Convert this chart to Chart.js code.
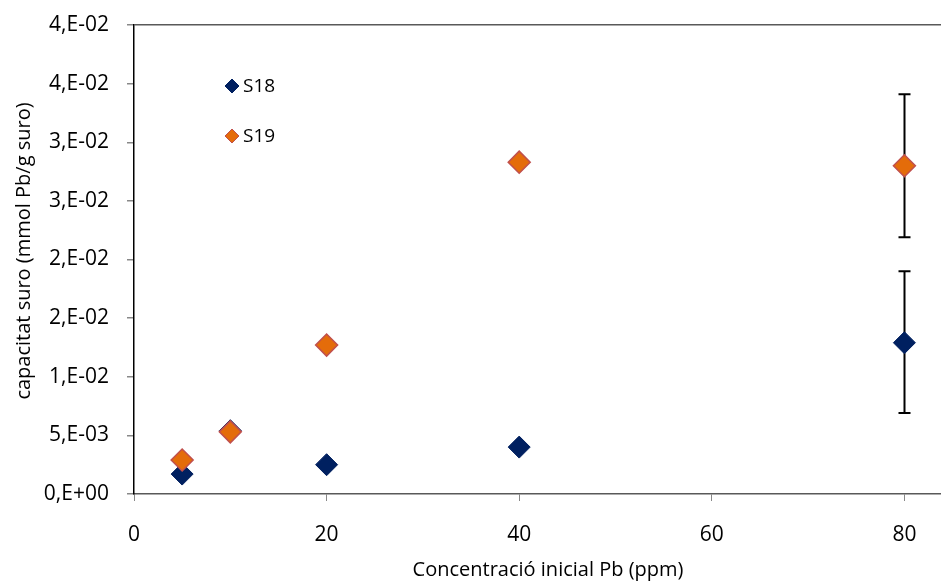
<!DOCTYPE html>
<html lang="ca">
<head>
  <meta charset="UTF-8" />
  <title>Capacitat suro</title>
  <script src="https://cdn.jsdelivr.net/npm/chart.js"></script>
  <style>
    html, body { margin: 0; padding: 0; background: #fff; overflow: hidden; }
    #wrap { width: 941px; height: 581px; position: relative; }
    canvas { display: block; }
  </style>
</head>
<body>
  <div id="wrap"><canvas id="chart"></canvas></div>

  <script>
    // data
    const concentrations = [5, 10, 20, 40, 80];
    const s18 = [0.0017, 0.0054, 0.0025, 0.0040, 0.0129];
    const s19 = [0.0029, 0.0053, 0.0127, 0.0283, 0.0280];
    const s18ErrLow = [null, null, null, null, 0.0069];
    const s18ErrHigh = [null, null, null, null, 0.0190];
    const s19ErrLow = [null, null, null, null, 0.0219];
    const s19ErrHigh = [null, null, null, null, 0.0341];

    const xTickValues = [0, 20, 40, 60, 80];
    const yTickValues = [0, 0.005, 0.01, 0.015, 0.02, 0.025, 0.03, 0.035, 0.04];
    const yTickLabels = ['0,E+00', '5,E-03', '1,E-02', '2,E-02', '2,E-02', '3,E-02', '3,E-02', '4,E-02', '4,E-02'];
    const xTitle = 'Concentració inicial Pb (ppm)';
    const yTitle = 'capacitat suro (mmol Pb/g suro)';

    const navy = '#002060';
    const orange = '#E46C0A';
    const orangeBorder = '#C0504D';
    const fontFamily = '"Open Sans", Lato, sans-serif';

    Chart.defaults.font.family = fontFamily;
    Chart.defaults.color = '#000';

    // error bars, drawn under the markers
    const errorBars = {
      id: 'errorBars',
      beforeDatasetsDraw(chart) {
        const { ctx, scales: { x, y } } = chart;
        ctx.save();
        ctx.strokeStyle = '#000';
        ctx.lineWidth = 2;
        chart.data.datasets.forEach(ds => {
          ds.data.forEach((p, i) => {
            if (ds.errLow[i] == null) return;
            const px = Math.round(x.getPixelForValue(p.x)) + 0.5;
            const top = y.getPixelForValue(ds.errHigh[i]);
            const bot = y.getPixelForValue(ds.errLow[i]);
            ctx.beginPath();
            ctx.moveTo(px, top); ctx.lineTo(px, bot);
            ctx.moveTo(px - 6, top); ctx.lineTo(px + 6, top);
            ctx.moveTo(px - 6, bot); ctx.lineTo(px + 6, bot);
            ctx.stroke();
          });
        });
        ctx.restore();
      }
    };

    // legend inside the plot area (Excel style) and the axis titles
    const insideLegend = {
      id: 'insideLegend',
      afterDraw(chart) {
        const { ctx, chartArea } = chart;
        ctx.save();
        ctx.font = '19px ' + fontFamily;
        ctx.textBaseline = 'middle';
        const items = [chart.data.datasets[1], chart.data.datasets[0]];
        items.forEach((ds, k) => {
          const cx = chartArea.left + 98;
          const cy = chartArea.top + 61 + k * 50;
          ctx.beginPath();
          ctx.moveTo(cx, cy - 7); ctx.lineTo(cx + 7, cy); ctx.lineTo(cx, cy + 7); ctx.lineTo(cx - 7, cy);
          ctx.closePath();
          ctx.fillStyle = ds.backgroundColor;
          ctx.fill();
          ctx.strokeStyle = ds.borderColor;
          ctx.lineWidth = 1;
          ctx.stroke();
          ctx.fillStyle = '#000';
          ctx.fillText(ds.label, cx + 11, cy + 1);
        });
        ctx.font = '20px ' + fontFamily;
        ctx.textAlign = 'center';
        ctx.fillText(xTitle, 548, chartArea.bottom + 76);
        ctx.translate(24, 251);
        ctx.rotate(-Math.PI / 2);
        ctx.fillText(yTitle, 0, 0);
        ctx.restore();
      }
    };

    new Chart(document.getElementById('chart'), {
      type: 'scatter',
      data: {
        datasets: [
          {
            label: 'S19',
            data: concentrations.map((c, i) => ({ x: c, y: s19[i] })),
            errLow: s19ErrLow,
            errHigh: s19ErrHigh,
            backgroundColor: orange,
            borderColor: orangeBorder,
            pointStyle: 'rectRot',
            pointRadius: 11,
            pointHoverRadius: 11,
            pointBorderWidth: 1.5,
            order: 0
          },
          {
            label: 'S18',
            data: concentrations.map((c, i) => ({ x: c, y: s18[i] })),
            errLow: s18ErrLow,
            errHigh: s18ErrHigh,
            backgroundColor: navy,
            borderColor: navy,
            pointStyle: 'rectRot',
            pointRadius: 11,
            pointHoverRadius: 11,
            pointBorderWidth: 1,
            order: 1
          }
        ]
      },
      options: {
        responsive: true,
        maintainAspectRatio: false,
        animation: false,
        layout: { autoPadding: false, padding: { top: 25, right: 0, left: 0, bottom: 0 } },
        plugins: {
          legend: { display: false },
          tooltip: { enabled: false }
        },
        scales: {
          x: {
            type: 'linear',
            min: 0,
            max: 83.8,
            afterBuildTicks: s => { s.ticks = xTickValues.map(v => ({ value: v })); },
            afterFit: s => { s.height = 87; s.paddingLeft = 0; s.paddingRight = 0; },
            ticks: { font: { size: 21 }, padding: 21, maxRotation: 0 },
            grid: { drawOnChartArea: false, tickLength: 7, tickColor: '#888' },
            border: { color: '#595959', width: 1.5 }
          },
          y: {
            min: 0,
            max: 0.04,
            afterBuildTicks: s => { s.ticks = yTickValues.map(v => ({ value: v })); },
            afterFit: s => { s.width = 134; s.paddingTop = 0; s.paddingBottom = 0; },
            ticks: {
              font: { size: 21 },
              padding: 18,
              callback: (v, i) => yTickLabels[i]
            },
            grid: {
              tickLength: 7,
              tickColor: '#888',
              color: c => (c.tick && c.tick.value === 0.04 ? '#595959' : 'rgba(0,0,0,0)'),
              lineWidth: 1.5
            },
            border: { color: '#000', width: 1.5 }
          }
        }
      },
      plugins: [errorBars, insideLegend]
    });
  </script>
</body>
</html>
